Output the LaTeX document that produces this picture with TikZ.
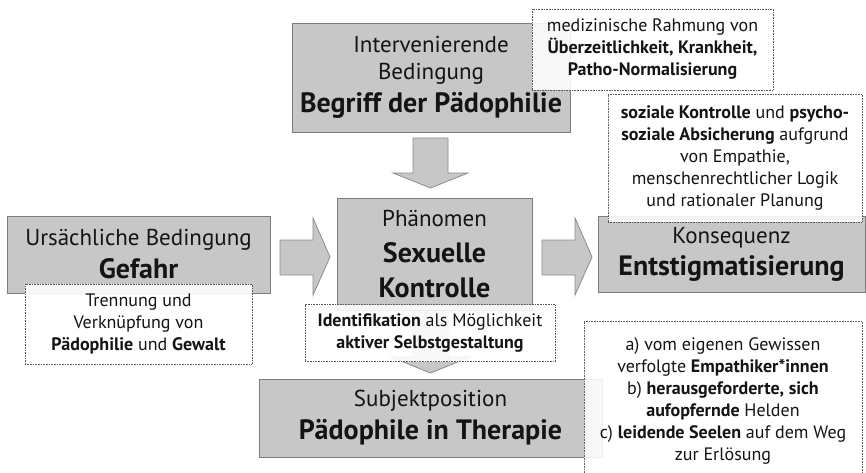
\documentclass[tikz,border=0pt]{standalone}
\usepackage{fontspec}
\setmainfont{PT Sans}
\definecolor{boxfill}{RGB}{199,199,199}
\definecolor{boxline}{RGB}{125,125,125}
\definecolor{arrline}{RGB}{140,140,140}
\definecolor{noteline}{RGB}{90,90,90}
\definecolor{ink}{RGB}{20,20,20}
\newcommand\labfont{\fontsize{23}{33}\selectfont}
\newcommand\titfont{\fontsize{28}{33}\selectfont\bfseries}
\newcommand\notefont{\fontsize{18}{22}\selectfont}
\begin{document}
\begin{tikzpicture}[x=1pt,y=-1pt,
  mainbox/.style={draw=boxline, line width=1pt, fill=boxfill, inner sep=0pt, align=center, text=ink, font=\labfont},
  notebox/.style={draw=noteline, densely dotted, line width=0.6pt, fill=white, fill opacity=0.88, text opacity=1, inner sep=0pt, align=center, text=ink, font=\notefont},
  blockarrow/.style={fill=boxfill, draw=arrline, line width=0.8pt}]
\useasboundingbox (0,0) rectangle (866,472);
% main boxes
\node[mainbox, minimum width=278pt, minimum height=109pt] (inter) at (431,77.5)
  {Intervenierende\\[-6pt] Bedingung\\ \titfont Begriff der Pädophilie};
\node[mainbox, minimum width=195pt, minimum height=112pt] (phen) at (434.5,254)
  {Phänomen\\[3pt] \titfont Sexuelle\\[2pt] \titfont Kontrolle};
\node[mainbox, minimum width=263pt, minimum height=77pt] (urs) at (138.5,254.5)
  {Ursächliche Bedingung\\ \titfont Gefahr};
\node[mainbox, minimum width=267pt, minimum height=76pt] (kons) at (731.5,254)
  {Konsequenz\\[-1pt] \titfont Entstigmatisierung};
\node[mainbox, minimum width=343pt, minimum height=78pt] (subj) at (430.5,418)
  {Subjektposition\\ \titfont Pädophile in Therapie};
% block arrows
\draw[blockarrow] (413,138) -- (448,138) -- (448,173) -- (468,173) -- (430.5,188) -- (393,173) -- (413,173) -- cycle;
\draw[blockarrow] (413,312) -- (448,312) -- (448,357) -- (470,357) -- (430.5,373) -- (391,357) -- (413,357) -- cycle;
\draw[blockarrow] (280,240) -- (313,240) -- (313,218) -- (330,257) -- (313,295) -- (313,275) -- (280,275) -- cycle;
\draw[blockarrow] (542,240) -- (575,240) -- (575,218) -- (592,257) -- (575,295) -- (575,275) -- (542,275) -- cycle;
% notes
\node[notebox, minimum width=241pt, minimum height=81pt] (med) at (652.5,49.5)
  {medizinische Rahmung von\\ \textbf{Überzeitlichkeit, Krankheit,}\\ \textbf{Patho-Normalisierung}};
\node[notebox, minimum width=254pt, minimum height=128pt] (soz) at (735,158)
  {\textbf{soziale Kontrolle} und \textbf{psycho-}\\ \textbf{soziale Absicherung} aufgrund\\ von Empathie,\\ menschenrechtlicher Logik\\ und rationaler Planung};
\node[notebox, minimum width=227pt, minimum height=80pt] (tren) at (138.5,324)
  {Trennung und\\ Verknüpfung von\\ \textbf{Pädophilie} und \textbf{Gewalt}};
\node[notebox, minimum width=250pt, minimum height=57pt] (ident) at (430,333)
  {\textbf{Identifikation} als Möglichkeit\\ \textbf{aktiver Selbstgestaltung}};
\node[notebox, minimum width=278pt, minimum height=160pt] (subjnote) at (723,401)
  {a) vom eigenen Gewissen\\ verfolgte \textbf{Empathiker*innen}\\ b) \textbf{herausgeforderte, sich}\\ \textbf{aufopfernde} Helden\\ c) \textbf{leidende Seelen} auf dem Weg\\ zur Erlösung};
\end{tikzpicture}
\end{document}
